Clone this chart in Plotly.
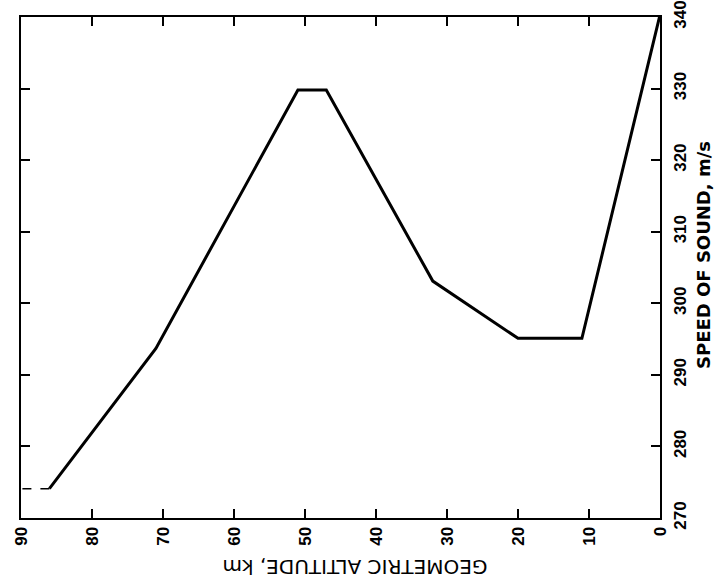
import plotly.graph_objects as go

# U.S. Standard Atmosphere: speed of sound vs geometric altitude
altitude_km = [0, 11, 20, 32, 47, 51, 71, 86]
speed_ms = [340.3, 295.1, 295.1, 303.1, 329.8, 329.8, 293.7, 274.1]

# extension above 86 km, shown dashed
ext_altitude_km = [86, 90]
ext_speed_ms = [274.1, 274.1]

x_ticks = [90, 80, 70, 60, 50, 40, 30, 20, 10, 0]
y_ticks = [270, 280, 290, 300, 310, 320, 330, 340]

FONT = "Liberation Sans"

fig = go.Figure()
fig.add_trace(go.Scatter(
    x=altitude_km, y=speed_ms, mode="lines",
    line=dict(color="black", width=3), showlegend=False,
))
fig.add_trace(go.Scatter(
    x=ext_altitude_km, y=ext_speed_ms, mode="lines",
    line=dict(color="black", width=1.5, dash="dash"), showlegend=False,
))

axis_common = dict(
    showgrid=False, zeroline=False, showline=True, linecolor="black",
    linewidth=2, mirror="ticks", ticks="inside", ticklen=9, tickwidth=1.5,
    tickcolor="black",
    tickfont=dict(family=FONT, size=17, color="black", weight="bold"),
    tickangle=-90, ticklabeloverflow="allow", automargin=False,
)

fig.update_layout(
    width=718, height=587,
    margin=dict(l=21, r=58, t=17, b=69),
    paper_bgcolor="white", plot_bgcolor="white",
    xaxis=dict(range=[90, 0], tickvals=x_ticks, **axis_common),
    yaxis=dict(range=[270, 340], tickvals=y_ticks, side="right",
               ticklabelstandoff=4, **axis_common),
    annotations=[
        dict(text="GEOMETRIC ALTITUDE, km", xref="paper", yref="paper",
             x=0.523, y=-0.098, xanchor="center", yanchor="middle",
             textangle=180, showarrow=False,
             font=dict(family="DejaVu Sans", size=20, color="black")),
        dict(text="SPEED OF SOUND, m/s", xref="paper", yref="paper",
             x=1.068, y=0.526, xanchor="center", yanchor="middle",
             textangle=-90, showarrow=False,
             font=dict(family="DejaVu Sans", size=18, color="black",
                       weight="bold")),
    ],
)

fig.write_html("out.html")
